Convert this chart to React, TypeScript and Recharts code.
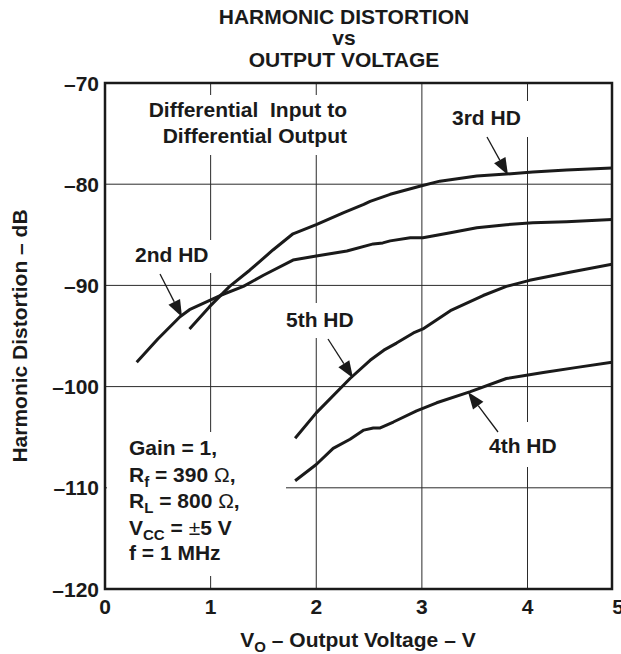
import React from "react";
import { LineChart, Line, XAxis, YAxis, CartesianGrid } from "recharts";

const W = 621;
const H = 654;
const FONT = '"Liberation Sans", Arial, Helvetica, sans-serif';
const INK = "#1a1a1a";

// The frame in the reference stops a little short of 5 V (the scan is cropped),
// so the last tick carries the "5" label at the right edge.
const X_MAX = 4.8;
const xTicks = [0, 1, 2, 3, 4, X_MAX];
const yTicks = [-70, -80, -90, -100, -110, -120];

// output voltage (V) vs dB
const hd2Volts = [0.3, 0.5, 0.71, 0.8, 1.09, 1.31, 1.5, 1.78, 2.0, 2.29, 2.54, 2.63, 2.7, 2.89, 3.01, 3.27, 3.52, 3.8, 4.05, 4.37, 4.8];
const hd2Db = [-97.6, -95.3, -93.1, -92.4, -91.0, -90.1, -89.0, -87.5, -87.1, -86.6, -85.9, -85.8, -85.6, -85.3, -85.3, -84.8, -84.3, -84.0, -83.8, -83.7, -83.5];

const hd3Volts = [0.8, 0.99, 1.18, 1.37, 1.59, 1.78, 2.0, 2.26, 2.45, 2.51, 2.7, 2.98, 3.17, 3.52, 3.8, 4.05, 4.37, 4.8];
const hd3Db = [-94.3, -92.1, -90.1, -88.5, -86.5, -84.9, -84.0, -82.8, -82.0, -81.7, -81.0, -80.2, -79.7, -79.2, -79.0, -78.8, -78.6, -78.4];

const hd4Volts = [1.8, 2.0, 2.16, 2.32, 2.45, 2.54, 2.6, 2.73, 2.95, 3.14, 3.46, 3.8, 4.15, 4.47, 4.8];
const hd4Db = [-109.3, -107.7, -106.1, -105.2, -104.3, -104.1, -104.1, -103.5, -102.4, -101.6, -100.5, -99.2, -98.6, -98.1, -97.6];

const hd5Volts = [1.8, 2.0, 2.32, 2.51, 2.64, 2.76, 2.92, 3.01, 3.27, 3.58, 3.8, 4.02, 4.4, 4.8];
const hd5Db = [-105.1, -102.6, -99.2, -97.4, -96.4, -95.7, -94.7, -94.3, -92.5, -91.0, -90.1, -89.5, -88.7, -87.9];

const toPoints = (xs: number[], ys: number[]) => xs.map((v, i) => ({ v, db: ys[i] }));

const series = [
  { name: "2nd HD", data: toPoints(hd2Volts, hd2Db) },
  { name: "3rd HD", data: toPoints(hd3Volts, hd3Db) },
  { name: "4th HD", data: toPoints(hd4Volts, hd4Db) },
  { name: "5th HD", data: toPoints(hd5Volts, hd5Db) },
];

const textStyle = { fontFamily: FONT, fontWeight: 700, fontSize: 21, fill: INK } as const;

function XTick(props: any) {
  const { x, y, payload } = props;
  const last = payload.value === X_MAX;
  return (
    <text x={x + (last ? 6 : 0)} y={y + 25} textAnchor="middle" {...textStyle}>
      {last ? "5" : String(payload.value)}
    </text>
  );
}

function YTick(props: any) {
  const { x, y, payload } = props;
  const label = payload.value < 0 ? `\u2013${Math.abs(payload.value)}` : String(payload.value);
  return (
    <text x={x} y={y} dy="0.36em" textAnchor="end" {...textStyle}>
      {label}
    </text>
  );
}

function Arrow({ x1, y1, x2, y2 }: { x1: number; y1: number; x2: number; y2: number }) {
  const len = Math.hypot(x2 - x1, y2 - y1);
  const ux = (x2 - x1) / len;
  const uy = (y2 - y1) / len;
  const headLen = 17;
  const half = 6.5;
  const bx = x2 - ux * headLen;
  const by = y2 - uy * headLen;
  const pts = `${x2},${y2} ${bx - uy * half},${by + ux * half} ${bx + uy * half},${by - ux * half}`;
  return (
    <g>
      <line x1={x1} y1={y1} x2={bx} y2={by} stroke={INK} strokeWidth={1.3} />
      <polygon points={pts} fill={INK} />
    </g>
  );
}

function Overlay() {
  const sub = { fontSize: 15 };
  const sym = { fontWeight: 400 };
  return (
    <svg width={W} height={H} style={{ position: "absolute", left: 0, top: 0, pointerEvents: "none" }}>
      {/* white boxes behind the in-plot notes break the grid like the original */}
      <rect x={146} y={95} width={206} height={60} fill="#fff" />
      <rect x={447} y={101} width={84} height={36} fill="#fff" />
      <rect x={131} y={240} width={82} height={33} fill="#fff" />
      <rect x={282} y={303} width={75} height={35} fill="#fff" />
      <rect x={485} y={422} width={74} height={45} fill="#fff" />
      <rect x={107} y={432} width={179} height={144} fill="#fff" />

      <rect x={105} y={83} width={507} height={506} fill="none" stroke={INK} strokeWidth={2.5} />

      <text x={344} y={24} textAnchor="middle" {...textStyle}>HARMONIC DISTORTION</text>
      <text x={344} y={45} textAnchor="middle" {...textStyle}>vs</text>
      <text x={344} y={67} textAnchor="middle" {...textStyle}>OUTPUT VOLTAGE</text>

      <text x={347} y={117} textAnchor="end" {...textStyle} style={{ whiteSpace: "pre" }}>
        {"Differential  Input to"}
      </text>
      <text x={347} y={143} textAnchor="end" {...textStyle}>Differential Output</text>

      <text x={452} y={125} {...textStyle}>3rd HD</text>
      <text x={135} y={262} {...textStyle}>2nd HD</text>
      <text x={286} y={327} {...textStyle}>5th HD</text>
      <text x={489} y={453} {...textStyle}>4th HD</text>

      <Arrow x1={487} y1={137} x2={508} y2={175} />
      <Arrow x1={160} y1={274} x2={182} y2={317} />
      <Arrow x1={328} y1={339} x2={353} y2={378} />
      <Arrow x1={498} y1={432} x2={468} y2={392} />

      <text x={129} y={455} {...textStyle}>Gain = 1,</text>
      <text x={129} y={482} {...textStyle}>
        R<tspan dy={5} {...sub}>f</tspan>
        <tspan dy={-5}> = 390 </tspan>
        <tspan {...sym}>Ω</tspan>,
      </text>
      <text x={129} y={508} {...textStyle}>
        R<tspan dy={5} {...sub}>L</tspan>
        <tspan dy={-5}> = 800 </tspan>
        <tspan {...sym}>Ω</tspan>,
      </text>
      <text x={129} y={535} {...textStyle}>
        V<tspan dy={5} {...sub}>CC</tspan>
        <tspan dy={-5}> = </tspan>
        <tspan {...sym}>±</tspan>5 V
      </text>
      <text x={129} y={560} {...textStyle}>f = 1 MHz</text>

      <text x={358} y={647} textAnchor="middle" {...textStyle}>
        V<tspan dy={5} {...sub}>O</tspan>
        <tspan dy={-5}> – Output Voltage – V</tspan>
      </text>
      <text transform="translate(27,336) rotate(-90)" textAnchor="middle" {...textStyle}>
        Harmonic Distortion – dB
      </text>
    </svg>
  );
}

export default function App() {
  return (
    <div style={{ position: "absolute", left: 0, top: 0, width: W, height: H, background: "#fff", fontFamily: FONT }}>
      <LineChart width={W} height={H} margin={{ top: 83, right: 9, bottom: 25, left: 35 }}>
        <CartesianGrid stroke="#2b2b2b" strokeWidth={1} />
        <XAxis
          type="number"
          dataKey="v"
          domain={[0, X_MAX]}
          ticks={xTicks}
          interval={0}
          allowDataOverflow
          height={40}
          axisLine={false}
          tickLine={false}
          tickSize={0}
          tickMargin={0}
          tick={(p: any) => <XTick {...p} />}
        />
        <YAxis
          type="number"
          domain={[-120, -70]}
          ticks={yTicks}
          interval={0}
          width={70}
          axisLine={false}
          tickLine={false}
          tickSize={0}
          tickMargin={6}
          tick={(p: any) => <YTick {...p} />}
        />
        {series.map((s) => (
          <Line
            key={s.name}
            name={s.name}
            data={s.data}
            dataKey="db"
            type="linear"
            stroke={INK}
            strokeWidth={3}
            strokeLinejoin="round"
            dot={false}
            activeDot={false}
            isAnimationActive={false}
          />
        ))}
      </LineChart>
      <Overlay />
    </div>
  );
}
